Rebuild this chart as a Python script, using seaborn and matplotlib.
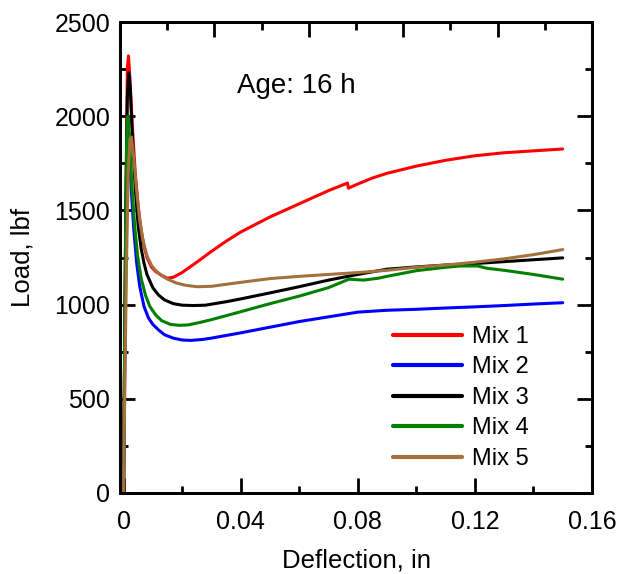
import numpy as np
import pandas as pd
import matplotlib
matplotlib.use('Agg')
import matplotlib.pyplot as plt
import seaborn as sns
from matplotlib.ticker import MultipleLocator

sns.set_theme(style='ticks')
plt.rcParams['font.family'] = ['Liberation Sans', 'DejaVu Sans']
plt.rcParams['text.color'] = 'black'
plt.rcParams['axes.labelcolor'] = 'black'
plt.rcParams['xtick.color'] = 'black'
plt.rcParams['ytick.color'] = 'black'

mix_names = ['Mix 1', 'Mix 2', 'Mix 3', 'Mix 4', 'Mix 5']
colors = ['#ff0000', '#0000ff', '#000000', '#008000', '#a4703c']

mix1_x = [0, 0.0003, 0.0008, 0.0013, 0.0017, 0.0022, 0.003, 0.004, 0.005, 0.006, 0.007, 0.008, 0.0095, 0.011, 0.013, 0.015, 0.017, 0.02, 0.025, 0.03, 0.035, 0.04, 0.05, 0.06, 0.07, 0.0765, 0.0768, 0.08, 0.085, 0.09, 0.1, 0.11, 0.12, 0.13, 0.14, 0.15]
mix1_y = [0, 600, 1500, 2250, 2320, 2200, 1950, 1700, 1520, 1400, 1310, 1250, 1200, 1175, 1155, 1140, 1145, 1170, 1225, 1282, 1336, 1385, 1465, 1535, 1605, 1645, 1618, 1640, 1672, 1697, 1735, 1766, 1790, 1806, 1816, 1826]

mix2_x = [0, 0.0003, 0.0008, 0.0013, 0.0018, 0.0025, 0.0035, 0.0045, 0.0055, 0.007, 0.0085, 0.01, 0.012, 0.014, 0.017, 0.02, 0.023, 0.027, 0.03, 0.04, 0.05, 0.06, 0.07, 0.08, 0.09, 0.1, 0.11, 0.12, 0.13, 0.14, 0.15]
mix2_y = [0, 500, 1200, 1700, 1800, 1650, 1400, 1220, 1100, 990, 930, 895, 865, 840, 822, 812, 810, 815, 822, 850, 880, 910, 935, 960, 970, 975, 982, 988, 995, 1003, 1010]

mix3_x = [0, 0.0003, 0.0008, 0.0013, 0.0018, 0.0023, 0.003, 0.004, 0.005, 0.006, 0.007, 0.008, 0.01, 0.012, 0.014, 0.017, 0.02, 0.024, 0.028, 0.035, 0.04, 0.05, 0.06, 0.07, 0.08, 0.09, 0.1, 0.11, 0.12, 0.13, 0.14, 0.15]
mix3_y = [0, 600, 1500, 2100, 2230, 2150, 1900, 1620, 1420, 1300, 1220, 1160, 1090, 1050, 1025, 1005, 997, 995, 997, 1015, 1030, 1062, 1095, 1130, 1160, 1188, 1200, 1210, 1218, 1228, 1238, 1248]

mix4_x = [0, 0.0003, 0.0007, 0.0011, 0.0015, 0.002, 0.0028, 0.0038, 0.0048, 0.006, 0.0075, 0.009, 0.011, 0.013, 0.016, 0.019, 0.022, 0.026, 0.03, 0.04, 0.05, 0.06, 0.07, 0.077, 0.082, 0.087, 0.09, 0.1, 0.11, 0.115, 0.121, 0.124, 0.13, 0.14, 0.15]
mix4_y = [0, 600, 1400, 1900, 2000, 1900, 1650, 1420, 1260, 1140, 1050, 990, 945, 915, 895, 890, 892, 905, 920, 962, 1005, 1045, 1090, 1135, 1130, 1140, 1150, 1180, 1198, 1205, 1205, 1193, 1182, 1160, 1135]

mix5_x = [0, 0.0004, 0.001, 0.0016, 0.0022, 0.0027, 0.0035, 0.0045, 0.0055, 0.0065, 0.008, 0.0095, 0.011, 0.013, 0.015, 0.018, 0.021, 0.025, 0.03, 0.04, 0.05, 0.06, 0.07, 0.08, 0.09, 0.1, 0.11, 0.12, 0.13, 0.14, 0.15]
mix5_y = [0, 500, 1200, 1700, 1880, 1890, 1780, 1600, 1450, 1350, 1260, 1210, 1180, 1155, 1135, 1115, 1103, 1095, 1097, 1118, 1138, 1150, 1160, 1170, 1182, 1198, 1210, 1225, 1243, 1265, 1292]

xs = [mix1_x, mix2_x, mix3_x, mix4_x, mix5_x]
ys = [mix1_y, mix2_y, mix3_y, mix4_y, mix5_y]
frames = []
for name, x, y in zip(mix_names, xs, ys):
    frames.append(pd.DataFrame({'Deflection': x, 'Load': y, 'Mix': name}))
df = pd.concat(frames, ignore_index=True)

fig = plt.figure(figsize=(6.18, 5.74), dpi=100)
ax = fig.add_axes([120/618, 81/574, 472/618, 471/574])

sns.lineplot(data=df, x='Deflection', y='Load', hue='Mix', hue_order=mix_names,
             palette=dict(zip(mix_names, colors)), sort=False, estimator=None,
             linewidth=2.2, ax=ax)

ax.set_xlim(-0.0012, 0.16)
ax.set_ylim(0, 2500)
ax.xaxis.set_minor_locator(MultipleLocator(0.02))
ax.yaxis.set_major_locator(MultipleLocator(500))
ax.yaxis.set_minor_locator(MultipleLocator(250))
ax.set_xticks([0, 0.04, 0.08, 0.12, 0.16])
ax.set_xticklabels(['0', '0.04', '0.08', '0.12', '0.16'])
ax.tick_params(axis='both', which='major', direction='in', length=10.8, width=2, labelsize=18, colors='black')
ax.tick_params(axis='both', which='minor', direction='in', length=5.4, width=2)
ax.tick_params(axis='y', which='both', right=True)
ax.tick_params(axis='x', which='both', top=False)
ax.tick_params(axis='x', which='major', pad=12)
ax.tick_params(axis='y', which='major', pad=7)
for s in ax.spines.values():
    s.set_linewidth(2)
    s.set_color('black')

ax.set_xlabel('Deflection, in', fontsize=18.5, labelpad=11, color='black')
ax.set_ylabel('Load, lbf', fontsize=18.5, labelpad=14, color='black')

ax.text(0.0387, 2123, 'Age: 16 h', fontsize=20, ha='left', va='baseline', color='black')

handles, labels = ax.get_legend_handles_labels()
for h in handles:
    h.set_linewidth(3)
leg = ax.legend(handles, labels, loc='upper left', bbox_to_anchor=(0.578, 0.355),
                frameon=False, fontsize=17, handlelength=2.95, handletextpad=0.4,
                labelspacing=0.36, borderpad=0, borderaxespad=0, labelcolor='black')

ax2 = ax.twiny()
ax2.set_xlim(0, 5)
ax2.xaxis.set_major_locator(MultipleLocator(1))
ax2.xaxis.set_minor_locator(MultipleLocator(0.5))
ax2.tick_params(axis='x', which='major', direction='in', length=10.8, width=2, labeltop=False)
ax2.tick_params(axis='x', which='minor', direction='in', length=5.4, width=2)
for s in ax2.spines.values():
    s.set_linewidth(2)
    s.set_color('black')

fig.savefig('out.png', dpi=100)
